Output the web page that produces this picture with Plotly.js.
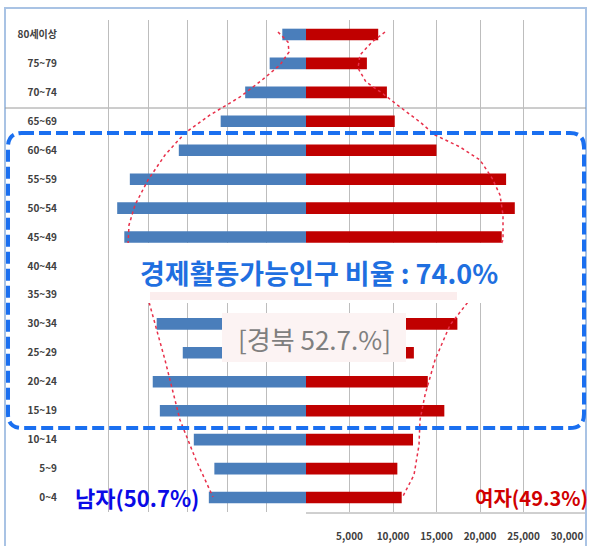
<!DOCTYPE html>
<html><head><meta charset="utf-8">
<script src="https://cdn.plot.ly/plotly-3.0.1.min.js"></script>
<style>html,body{margin:0;padding:0;background:#fff;}#chart{width:593px;height:546px;}</style>
</head><body><div id="chart"></div>
<script>
const categories = ['0~4','5~9','10~14','15~19','20~24','25~29','30~34','35~39','40~44','45~49','50~54','55~59','60~64','65~69','70~74','75~79','80세이상'];
const male   = [12300, 11600, 14200, 18500, 19400, 15600, 18900, 20500, 22000, 23000, 23900, 22300, 16100, 10800, 7700, 4600, 3000];
const female = [11000, 10500, 12300, 15900, 14000, 12400, 17400, 19000, 21500, 22500, 24000, 23000, 15000, 10200, 9300, 7000, 8300];
const tickVals = [5000, 10000, 15000, 20000, 25000, 30000];
const tickText = ['5,000', '10,000', '15,000', '20,000', '25,000', '30,000'];
const labelMain = '경제활동가능인구 비율 : 74.0%';
const labelRegion = '[경북 52.7.%]';
const labelMale = '남자(50.7%)';
const labelFemale = '여자(49.3%)';

const W = 593, H = 546;
const L = 69, R = 567, T = 20, B = 512;
const px = x => (x - L) / (R - L);
const py = y => (B - y) / (B - T);
const P = (x, y) => px(x).toFixed(5) + ',' + py(y).toFixed(5);
const FONT = '"Noto Sans CJK KR", "Noto Sans", sans-serif';
const split = (306 - L) / (R - L);

function poly(pts) {
  return 'M' + pts.map(p => P(p[0], p[1])).join(' L');
}
const leftCurve = [[278,32],[288,42],[289,52],[280,65],[262,80],[240,97],[210,115],[185,133],[165,155],[148,180],[135,205],[129,225],[128,245],[135,275],[149,302],[165,360],[180,420],[196,460],[213,497]];
const rightCurve = [[385,32],[372,42],[360,55],[358,68],[366,82],[382,93],[400,107],[420,122],[435,135],[460,147],[480,160],[492,178],[500,195],[503,215],[503,240],[490,270],[468,302],[450,325],[435,360],[425,395],[420,420],[419,445],[414,475],[402,498]];

function roundRect(x0, y0, x1, y1, r) {
  return 'M' + P(x0 + r, y0) + ' L' + P(x1 - r, y0) + ' Q' + P(x1, y0) + ' ' + P(x1, y0 + r) +
    ' L' + P(x1, y1 - r) + ' Q' + P(x1, y1) + ' ' + P(x1 - r, y1) +
    ' L' + P(x0 + r, y1) + ' Q' + P(x0, y1) + ' ' + P(x0, y1 - r) +
    ' L' + P(x0, y0 + r) + ' Q' + P(x0, y0) + ' ' + P(x0 + r, y0) + ' Z';
}

const traces = [
  {type: 'bar', orientation: 'h', y: categories, x: male, xaxis: 'x', yaxis: 'y',
   marker: {color: '#4A7EBB'}, width: 0.4, hoverinfo: 'none'},
  {type: 'bar', orientation: 'h', y: categories, x: female, xaxis: 'x2', yaxis: 'y',
   marker: {color: '#C00000'}, width: 0.4, hoverinfo: 'none'}
];

const shapes = [
  {type: 'rect', xref: 'paper', yref: 'paper', x0: px(5), x1: px(586), y0: py(8), y1: py(600),
   line: {color: '#A9C3E4', width: 2}, layer: 'below'},
  {type: 'line', xref: 'paper', yref: 'paper', x0: px(5), x1: px(586), y0: py(108), y1: py(108),
   line: {color: '#9A9A9A', width: 1}, layer: 'below'},
  {type: 'line', xref: 'paper', yref: 'paper', x0: px(306), x1: px(585), y0: py(513), y1: py(513),
   line: {color: '#A0A0A0', width: 1}, layer: 'below'},
  {type: 'path', xref: 'paper', yref: 'paper', path: poly(leftCurve),
   line: {color: '#E8304A', width: 1.5, dash: 'dot'}, layer: 'above'},
  {type: 'path', xref: 'paper', yref: 'paper', path: poly(rightCurve),
   line: {color: '#E8304A', width: 1.5, dash: 'dot'}, layer: 'above'},
  {type: 'rect', xref: 'paper', yref: 'paper', x0: px(125), x1: px(502), y0: py(243), y1: py(303),
   fillcolor: '#FFFFFF', line: {width: 0}, layer: 'above'},
  {type: 'rect', xref: 'paper', yref: 'paper', x0: px(150), x1: px(457), y0: py(292), y1: py(300),
   fillcolor: '#FBEDED', line: {width: 0}, layer: 'above'},
  {type: 'rect', xref: 'paper', yref: 'paper', x0: px(222), x1: px(406), y0: py(313), y1: py(362),
   fillcolor: '#FCF3F3', line: {width: 0}, layer: 'above'},
  {type: 'path', xref: 'paper', yref: 'paper', path: roundRect(8, 133, 584, 428, 14),
   line: {color: '#1A6FF0', width: 4, dash: '12px,5px'}, layer: 'above'}
];

const annotations = [
  {xref: 'paper', yref: 'paper', x: px(319), y: py(272), xanchor: 'center', yanchor: 'middle',
   text: '<b>' + labelMain + '</b>', showarrow: false, font: {family: FONT, size: 27, color: '#1F6FE0'}},
  {xref: 'paper', yref: 'paper', x: px(314), y: py(338), xanchor: 'center', yanchor: 'middle',
   text: labelRegion, showarrow: false, font: {family: FONT, size: 26, color: '#7F7F7F'}},
  {xref: 'paper', yref: 'paper', x: px(73), y: py(497), xanchor: 'left', yanchor: 'middle',
   text: '<b>' + labelMale + '</b>', showarrow: false, font: {family: FONT, size: 22, color: '#0A0AE6'}},
  {xref: 'paper', yref: 'paper', x: px(590), y: py(497), xanchor: 'right', yanchor: 'middle',
   text: '<b>' + labelFemale + '</b>', showarrow: false, font: {family: FONT, size: 20, color: '#D00000'}}
];

const layout = {
  width: W, height: H,
  margin: {l: L, r: W - R, t: T, b: H - B, pad: 0},
  paper_bgcolor: '#FFFFFF', plot_bgcolor: 'rgba(0,0,0,0)',
  showlegend: false, barmode: 'overlay',
  xaxis: {domain: [0, split], range: [30000, 0], dtick: 5000, tick0: 0, showticklabels: false,
          showgrid: true, gridcolor: '#BDBDBD', gridwidth: 1, zeroline: false, showline: false,
          fixedrange: true},
  xaxis2: {domain: [split, 1], range: [0, 30000], anchor: 'y', tickmode: 'array', tickvals: tickVals, ticktext: tickText,
           showgrid: true, gridcolor: '#BDBDBD', gridwidth: 1, zeroline: false, showline: false,
           ticks: 'outside', ticklen: 15, tickcolor: 'rgba(0,0,0,0)',
           tickfont: {family: FONT, size: 10, color: '#404040', weight: 'bold'}, fixedrange: true},
  yaxis: {type: 'category', categoryorder: 'array', categoryarray: categories, range: [-0.5, 16.5],
          showgrid: false, zeroline: false, showline: false, anchor: 'x',
          ticks: 'outside', ticklen: 9, tickcolor: 'rgba(0,0,0,0)',
          tickfont: {family: FONT, size: 10, color: '#404040', weight: 'bold'}, fixedrange: true},
  shapes: shapes,
  annotations: annotations
};

Plotly.newPlot('chart', traces, layout, {displayModeBar: false, staticPlot: true});
</script>
</body></html>
